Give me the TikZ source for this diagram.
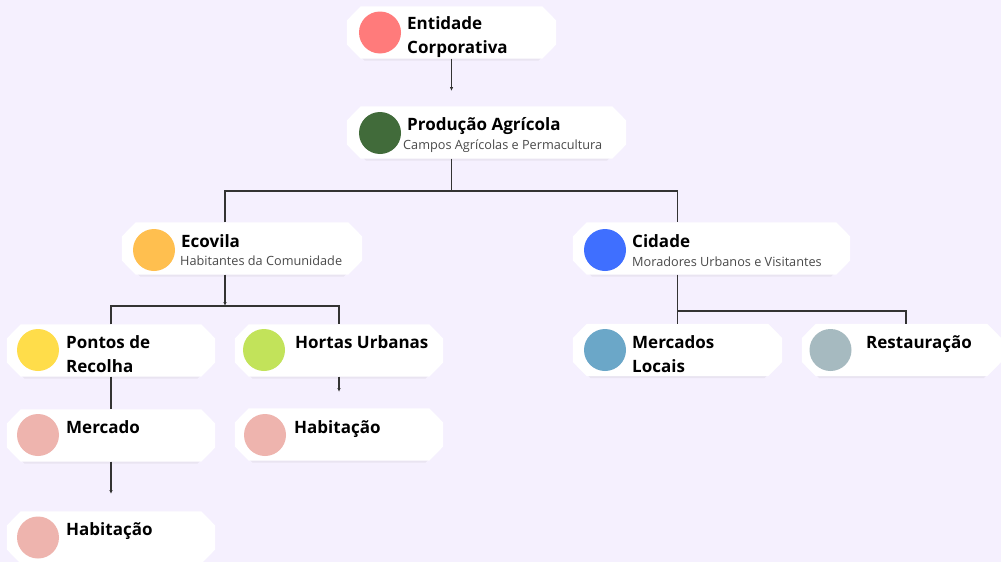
\documentclass[tikz,border=0pt]{standalone}
\usepackage{fontspec}
\setmainfont{Open Sans}
\usetikzlibrary{positioning,calc,arrows.meta,shadows}

\definecolor{bgcol}{HTML}{F5F0FE}
\definecolor{linecol}{HTML}{333333}
\definecolor{subcol}{HTML}{4A4A4A}
\definecolor{cRed}{HTML}{FF7B7B}
\definecolor{cGreen}{HTML}{416B3A}
\definecolor{cOrange}{HTML}{FFBF4F}
\definecolor{cBlue}{HTML}{3F6FFF}
\definecolor{cYellow}{HTML}{FFDD4A}
\definecolor{cLime}{HTML}{C2E35A}
\definecolor{cPink}{HTML}{EEB4AE}
\definecolor{cSteel}{HTML}{6BA7C8}
\definecolor{cGrey}{HTML}{A6BAC0}

% white card with cut corners, drawn on a named (invisible) node
\newcommand{\cardbox}[4]{%
  \node[card, minimum width=#4] (#1) at (#2,#3) {};
  \fill[cardfill] ([xshift=14pt]#1.north west) -- ([xshift=-14pt]#1.north east)
    -- ([yshift=12pt]#1.east) -- ([yshift=-12pt]#1.east)
    -- ([xshift=-14pt]#1.south east) -- ([xshift=14pt]#1.south west)
    -- ([yshift=-12pt]#1.west) -- ([yshift=12pt]#1.west) -- cycle;
}

\begin{document}
\begin{tikzpicture}[
  x=1pt, y=-1pt,
  >={Latex[length=4pt,width=3.5pt]},
  card/.style={rectangle, minimum height=52pt, inner sep=0pt},
  cardfill/.style={fill=white, drop shadow={shadow xshift=0pt, shadow yshift=-3pt, opacity=0.10, shadow scale=0.96}},
  dot/.style={circle, minimum size=42pt, inner sep=0pt},
  ttl/.style={anchor=base west, inner sep=0pt, align=left, font=\bfseries\fontsize{17}{24}\selectfont},
  sub/.style={anchor=base west, inner sep=0pt, text=subcol, font=\fontsize{12.7}{15}\selectfont},
  link/.style={draw=linecol, line width=1.2pt}
]
\useasboundingbox (0,0) rectangle (1001,562);
\fill[bgcol] (0,0) rectangle (1001,562);

% --- Top: Entidade and Producao ---
\cardbox{ent}{451.5}{32.5}{209pt}
\node[dot, fill=cRed]   (entd) at (380, 32.5) {};
\node[ttl] (entt) at (407, 53) {Entidade\\Corporativa};

\cardbox{prod}{486.5}{132.5}{279pt}
\node[dot, fill=cGreen] (prodd) at (380, 133) {};
\node[ttl] (prodt) at (407, 130) {Produção Agrícola};
\node[sub] (prods) at (403, 149) {Campos Agrícolas e Permacultura};

% --- Second level: Ecovila on the left, Cidade on the right ---
\cardbox{eco}{242}{248.5}{240pt}
\node[dot, fill=cOrange] (ecod) at (154, 250) {};
\node[ttl] (ecot) at (181, 247) {Ecovila};
\node[sub] (ecos) at (180, 265) {Habitantes da Comunidade};

\cardbox{cid}{711.5}{248.5}{277pt}
\node[dot, fill=cBlue] (cidd) at (605, 250) {};
\node[ttl] (cidt) at (632, 247) {Cidade};
\node[sub] (cids) at (632, 266) {Moradores Urbanos e Visitantes};

% --- Ecovila children ---
\cardbox{pon}{111}{350.5}{208pt}
\node[dot, fill=cYellow] (pond) at (38, 350) {};
\node[ttl] (pont) at (66, 372) {Pontos de\\Recolha};

\cardbox{hor}{339}{350.5}{208pt}
\node[dot, fill=cLime] (hord) at (264, 350) {};
\node[ttl] (hort) at (295, 348) {Hortas Urbanas};

\cardbox{mer}{111}{435.5}{208pt}
\node[dot, fill=cPink] (merd) at (38, 435) {};
\node[ttl] (mert) at (66, 433) {Mercado};

\cardbox{habA}{339}{434.5}{208pt}
\node[dot, fill=cPink] (habAd) at (265, 435) {};
\node[ttl] (habAt) at (294, 433) {Habitação};

\cardbox{habB}{111}{537.5}{208pt}
\node[dot, fill=cPink] (habBd) at (38, 537.5) {};
\node[ttl] (habBt) at (66, 535) {Habitação};

% --- Cidade children ---
\cardbox{mlo}{677.5}{350}{209pt}
\node[dot, fill=cSteel] (mlod) at (605, 350) {};
\node[ttl] (mlot) at (632, 372) {Mercados\\Locais};

\cardbox{res}{901.5}{350}{199pt}
\node[dot, fill=cGrey] (resd) at (830.5, 350) {};
\node[ttl] (rest) at (866, 348) {Restauração};

% --- Connectors ---
\coordinate (tip1) at (451.5, 91);
\coordinate (bus1) at (451.5, 191);
\coordinate (bus2) at (225, 306);
\coordinate (bus3) at (906, 311);
\coordinate (tip2) at (339, 392);
\coordinate (tip3) at (111, 494);

\draw[link, ->] (ent.south) -- (tip1);
\draw[link] (prod.south -| bus1) -- (bus1);
\draw[link] (eco.north -| bus2) |- (bus1) -| (cid.north -| mlo.north);

\draw[link, ->] (eco.south -| bus2) -- (bus2);
\draw[link] (pon.north) |- (bus2) -| (hor.north);
\draw[link] (pon.south) -- (mer.north);
\draw[link, ->] (mer.south) -- (tip3);
\draw[link, ->] (hor.south) -- (tip2);

\draw[link] (cid.south -| mlo.north) -- (mlo.north);
\draw[link] (mlo.north |- bus3) -- (bus3) -- (res.north -| bus3);

\end{tikzpicture}
\end{document}
